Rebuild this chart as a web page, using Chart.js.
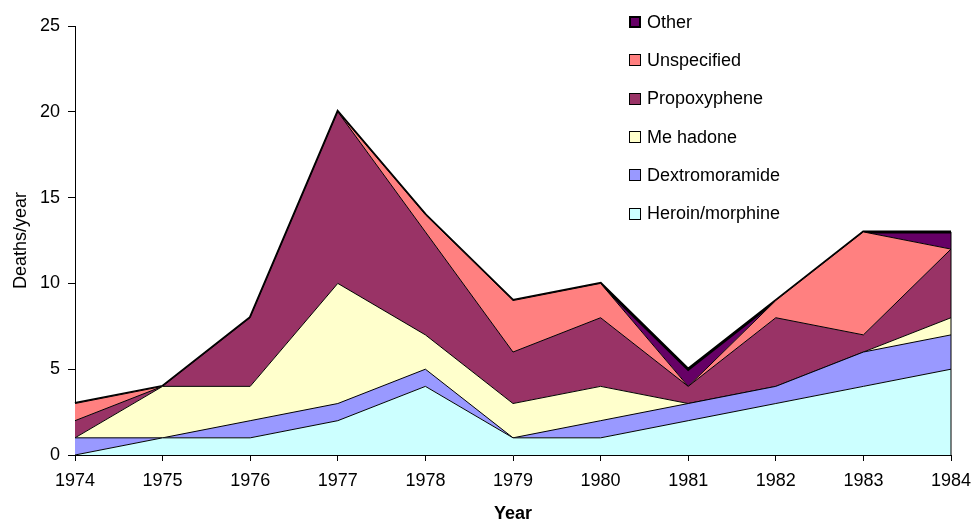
<!DOCTYPE html>
<html>
<head>
<meta charset="utf-8">
<script src="https://cdn.jsdelivr.net/npm/chart.js@4.4.1/dist/chart.umd.min.js"></script>
<style>
  html, body { margin: 0; padding: 0; background: #fff; }
  #wrap { position: relative; width: 975px; height: 523px; }
  #legend { position: absolute; left: 629px; top: 3px; font-family: "Liberation Sans", Arial, sans-serif; font-size: 18px; color: #000; }
  .item { height: 38.3px; display: flex; align-items: center; }
  .box { width: 10px; height: 10px; border: 1px solid #000; margin-right: 6px; }
</style>
</head>
<body>
<div id="wrap">
  <canvas id="chart" width="975" height="523"></canvas>
  <div id="legend"></div>
</div>
<script>
const years = ["1974", "1975", "1976", "1977", "1978", "1979", "1980", "1981", "1982", "1983", "1984"];
const heroin = [0, 1, 1, 2, 4, 1, 1, 2, 3, 4, 5];
const dextromoramide = [1, 0, 1, 1, 1, 0, 1, 1, 1, 2, 2];
const methadone = [0, 3, 2, 7, 2, 2, 2, 0, 0, 0, 1];
const propoxyphene = [1, 0, 4, 10, 6, 3, 4, 1, 4, 1, 4];
const unspecified = [1, 0, 0, 0, 1, 3, 2, 0, 1, 6, 0];
const other = [0, 0, 0, 0, 0, 0, 0, 1, 0, 0, 1];

const labels = ["Heroin/morphine", "Dextromoramide", "Me hadone", "Propoxyphene", "Unspecified", "Other"];
const series = [heroin, dextromoramide, methadone, propoxyphene, unspecified, other];
const colors = ["#CCFFFF", "#9999FF", "#FFFFCC", "#993366", "#FF8080", "#660066"];
const yTicks = [0, 5, 10, 15, 20, 25];

const font = "'Liberation Sans', Arial, sans-serif";

const datasets = series.map(function (values, i) {
  return {
    label: labels[i],
    data: values,
    backgroundColor: colors[i],
    borderColor: "#000",
    borderWidth: i === series.length - 1 ? 3 : 1,
    fill: i === 0 ? "origin" : "-1",
    pointRadius: 0,
    tension: 0,
  };
});

// vertical edge of the areas at the last year
const rightEdge = {
  id: "rightEdge",
  afterDatasetsDraw: function (chart) {
    const last = chart.getDatasetMeta(series.length - 1).data;
    const p = last[last.length - 1];
    const ctx = chart.ctx;
    ctx.save();
    ctx.strokeStyle = "#000";
    ctx.lineWidth = 1;
    ctx.beginPath();
    ctx.moveTo(p.x, p.y);
    ctx.lineTo(p.x, chart.scales.y.getPixelForValue(0));
    ctx.stroke();
    ctx.restore();
  },
};

const chart = new Chart(document.getElementById("chart"), {
  type: "line",
  data: { labels: years, datasets: datasets },
  plugins: [rightEdge],
  options: {
    responsive: false,
    animation: false,
    layout: { padding: { top: 26, right: 24, left: 0, bottom: 0 } },
    plugins: { legend: { display: false }, tooltip: { enabled: false } },
    scales: {
      x: {
        offset: false,
        grid: { display: true, drawOnChartArea: false, drawTicks: true, tickLength: 6, color: "#000" },
        border: { color: "#000", width: 1 },
        ticks: { color: "#000", font: { family: font, size: 18 }, padding: 9, maxRotation: 0 },
        title: { display: true, text: "Year", color: "#000", font: { family: font, size: 18, weight: "bold", lineHeight: 1 }, padding: { top: 0, bottom: 0 } },
        afterFit: function (scale) {
          scale.height = 68;
          scale.paddingLeft = 0;
          scale.paddingRight = 0;
        },
      },
      y: {
        stacked: true,
        min: 0,
        max: 25,
        afterBuildTicks: function (scale) { scale.ticks = yTicks.map(function (v) { return { value: v }; }); },
        grid: { display: true, drawOnChartArea: false, drawTicks: true, tickLength: 7, color: "#000" },
        border: { color: "#000", width: 1 },
        ticks: { color: "#000", font: { family: font, size: 18 }, padding: 8 },
        title: { display: true, text: "Deaths/year", color: "#000", font: { family: font, size: 18, lineHeight: 1 }, padding: { top: 12, bottom: 0 } },
        afterFit: function (scale) { scale.width = 75; },
      },
    },
  },
});

const legend = document.getElementById("legend");
for (let i = series.length - 1; i >= 0; i--) {
  const row = document.createElement("div");
  row.className = "item";
  const box = document.createElement("div");
  box.className = "box";
  box.style.background = colors[i];
  if (i === series.length - 1) {
    box.style.border = "2px solid #000";
    box.style.width = "8px";
    box.style.height = "8px";
  }
  const text = document.createElement("span");
  text.innerText = labels[i];
  row.appendChild(box);
  row.appendChild(text);
  legend.appendChild(row);
}
</script>
</body>
</html>
